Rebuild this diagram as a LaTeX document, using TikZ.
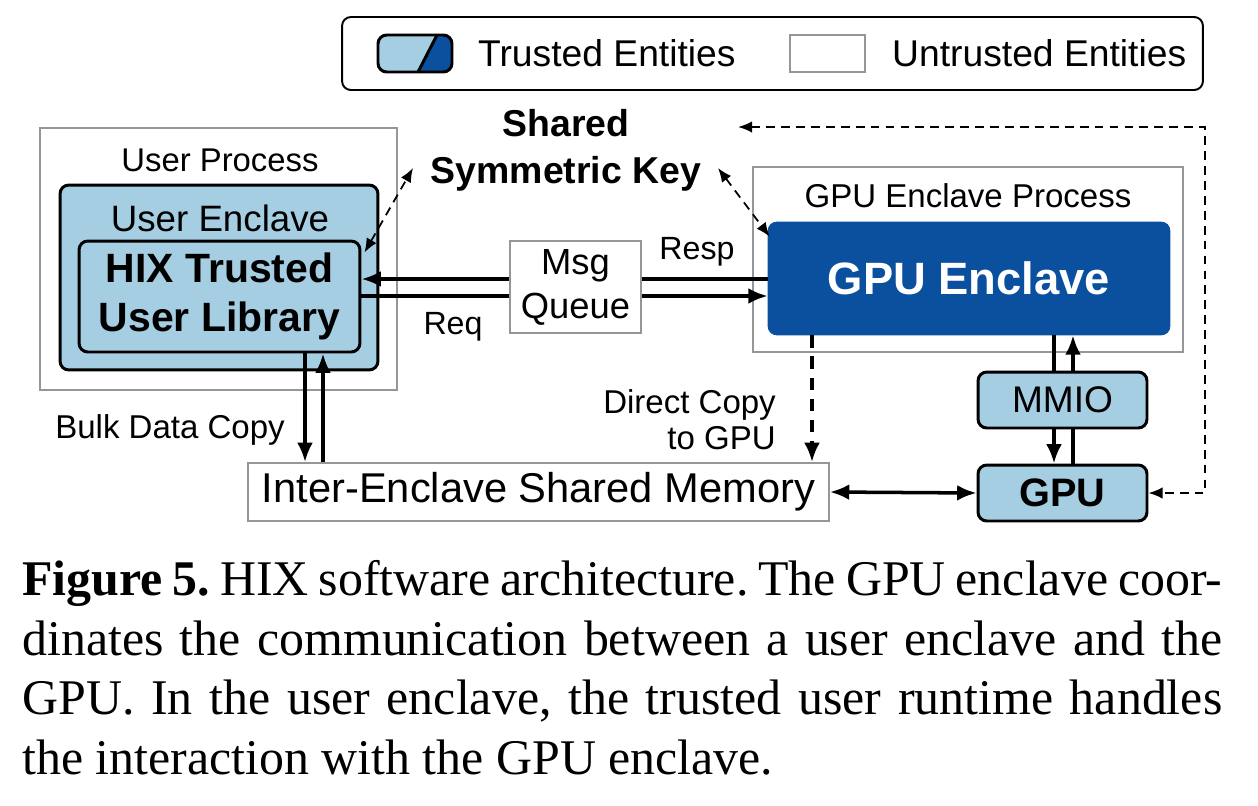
\documentclass[tikz,border=0pt]{standalone}
\usepackage{fontspec}
\setmainfont{Liberation Sans}
\newfontfamily\captionfont{Liberation Serif}
\usetikzlibrary{arrows.meta,calc}
\definecolor{trustLight}{RGB}{166,206,227}
\definecolor{trustDark}{RGB}{10,80,158}
\definecolor{boxGray}{RGB}{150,150,150}
\tikzset{
  graybox/.style={draw=boxGray, line width=1.1pt, fill=white, inner sep=0pt},
  trustbox/.style={draw=black, line width=1.7pt, fill=trustLight, rounded corners=5pt, inner sep=0pt},
  darkbox/.style={draw=trustDark, fill=trustDark, rounded corners=5pt, inner sep=0pt},
  flow/.style={line width=2pt, -{Latex[length=11pt,width=9pt]}},
  plainflow/.style={line width=2pt},
  keyflow/.style={line width=1pt, dash pattern=on 5pt off 3.5pt, {Latex[length=8pt,width=6.5pt]}-{Latex[length=8pt,width=6.5pt]}},
  copyflow/.style={line width=2pt, dash pattern=on 7pt off 5pt, -{Latex[length=11pt,width=9pt]}},
}
\begin{document}
\begin{tikzpicture}[x=0.02cm,y=-0.02cm]
\fill[white] (0,0) rectangle (1258,805);
\useasboundingbox (0,0) rectangle (1258,805);

% legend
\node[draw=black, line width=1.1pt, rounded corners=5pt, minimum width=17.22cm, minimum height=1.46cm] (legend) at (772.5,53.5) {};
\begin{scope}
  \clip[rounded corners=5pt] (378,35) rectangle (452,72);
  \fill[trustLight] (378,35) rectangle (452,72);
  \fill[trustDark] (437,35) -- (452,35) -- (452,72) -- (418,72) -- cycle;
\end{scope}
\draw[line width=1.7pt, rounded corners=5pt] (378,35) rectangle (452,72);
\draw[line width=1.7pt] (418,72) -- (437,35);
\node[anchor=west, font=\fontsize{21.2}{25}\selectfont] (legTrusted) at (472,53) {Trusted Entities};
\node[graybox, minimum width=1.5cm, minimum height=0.74cm] (legSwatch) at (827.5,53.5) {};
\node[anchor=west, font=\fontsize{21.2}{25}\selectfont] (legUntrusted) at (886,53) {Untrusted Entities};

% user side
\node[graybox, minimum width=7.14cm, minimum height=5.24cm] (userproc) at (218.5,259) {};
\node[font=\fontsize{18.7}{22}\selectfont] (userproclbl) at (220,160) {User Process};
\node[trustbox, minimum width=6.36cm, minimum height=3.7cm] (userencl) at (219,277.5) {};
\node[font=\fontsize{20.9}{24}\selectfont] (userencllbl) at (220,218) {User Enclave};
\node[trustbox, minimum width=5.62cm, minimum height=2.22cm, align=center,
  font=\bfseries\fontsize{23.3}{29.6}\selectfont] (hix) at (219.5,296.5) {\raisebox{-5pt}{HIX Trusted}\\\raisebox{-3pt}{User Library}};

% key
\node[align=center, font=\bfseries\fontsize{21.3}{26.7}\selectfont] (key) at (566,150) {Shared\\Symmetric Key};

% gpu side
\node[graybox, minimum width=8.6cm, minimum height=3.7cm] (gpuproc) at (968,259.5) {};
\node[font=\fontsize{18.8}{22}\selectfont] (gpuproclbl) at (968,196) {GPU Enclave Process};
\node[darkbox, minimum width=8.04cm, minimum height=2.26cm, text=white,
  font=\bfseries\fontsize{25.8}{30}\selectfont] (gpuencl) at (969,278.5) {GPU Enclave};

\node[graybox, minimum width=2.62cm, minimum height=1.84cm, align=center,
  font=\fontsize{20.7}{25}\selectfont] (msg) at (575.5,287) {Msg\\Queue};
\node[graybox, minimum width=11.62cm, minimum height=1.16cm,
  font=\fontsize{23.7}{27}\selectfont] (shm) at (538.5,492) {Inter-Enclave Shared Memory};
\node[trustbox, minimum width=3.38cm, minimum height=1.12cm,
  font=\fontsize{21.1}{25}\selectfont] (mmio) at (1062.5,400) {MMIO};
\node[trustbox, minimum width=3.38cm, minimum height=1.12cm,
  font=\bfseries\fontsize{22.6}{26}\selectfont] (gpu) at (1062.5,493) {GPU};

% connectors
\coordinate (respY) at (0,279);
\coordinate (reqY) at (0,296);
\draw[plainflow] (gpuencl.west |- respY) -- (msg.east |- respY);
\draw[flow] (msg.west |- respY) -- (hix.east |- respY);
\draw[plainflow] (hix.east |- reqY) -- (msg.west |- reqY);
\draw[flow] (msg.east |- reqY) -- (gpuencl.west |- reqY);
\node[font=\fontsize{18.3}{22}\selectfont] (resplbl) at (697,252) {Resp};
\node[font=\fontsize{18.3}{22}\selectfont] (reqlbl) at (453,327) {Req};

\coordinate (bulkDown) at (305,0);
\coordinate (bulkUp) at (323,0);
\draw[flow] (hix.south -| bulkDown) -- (shm.north -| bulkDown);
\draw[flow] (shm.north -| bulkUp) -- (hix.south -| bulkUp);
\node[anchor=east, font=\fontsize{18.8}{22}\selectfont] (bulklbl) at (291,430) {Bulk Data Copy};

\coordinate (copyX) at (812,0);
\draw[copyflow] (gpuencl.south -| copyX) -- (shm.north -| copyX);
\node[anchor=east, align=right, font=\fontsize{18.8}{20.5}\selectfont] (copylbl) at (782,420) {Direct Copy\\to GPU};

\coordinate (mmioDown) at (1054,0);
\coordinate (mmioUp) at (1073,0);
\draw[plainflow] (gpuencl.south -| mmioDown) -- (mmio.north -| mmioDown);
\draw[flow] (mmio.north -| mmioUp) -- (gpuencl.south -| mmioUp);
\draw[flow] (mmio.south -| mmioDown) -- (gpu.north -| mmioDown);
\draw[plainflow] (gpu.north -| mmioUp) -- (mmio.south -| mmioUp);
\draw[line width=2pt, {Latex[length=11pt,width=9pt]}-{Latex[length=11pt,width=9pt]}] (shm.east) -- (gpu.west);

% key exchange
\coordinate (keyL) at (413,168);
\coordinate (keyR) at (718,168);
\coordinate (keyTop) at (738,127);
\coordinate (loopX) at (1205,127);
\draw[keyflow] ($(hix.north east)+(3,13)$) -- (keyL);
\draw[keyflow] (keyR) -- ($(gpuencl.north west)+(2,15)$);
\draw[keyflow] (keyTop) -- (loopX) |- (gpu.east);

% caption
\node[anchor=north west, inner sep=0pt, text width=683pt, align=justify,
  font=\captionfont\fontsize{28.4}{33.9}\selectfont] (caption) at (22,560)
  {\frenchspacing\emergencystretch=3em
   \textbf{Figure 5.} HIX software architecture. The GPU enclave coor-\linebreak
   dinates the communication between a user enclave and the\linebreak
   GPU. In the user enclave, the trusted user runtime handles\linebreak
   the interaction with the GPU enclave.};
\end{tikzpicture}
\end{document}
